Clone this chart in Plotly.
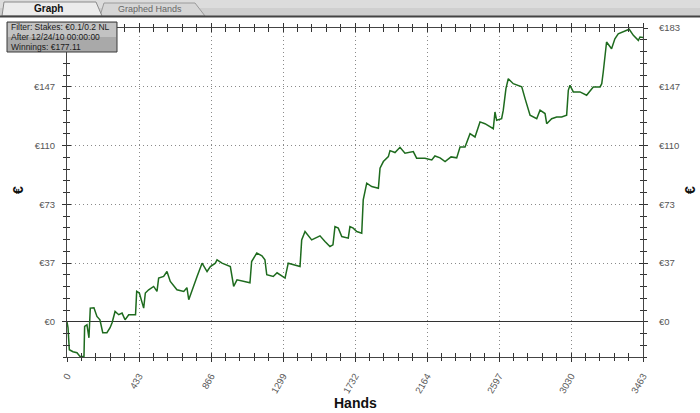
import plotly.graph_objects as go

# ---- data ----
hands = [0, 6, 14, 36, 60, 78, 102, 106, 120, 132, 140, 162, 180, 198, 215, 240, 259, 271, 289, 311,
         331, 349, 371, 412, 419, 435, 461, 471, 491, 521, 541, 551, 581, 601, 621, 661, 702, 721, 732, 762,
         782, 812, 842, 862, 892, 902, 932, 982, 1002, 1022, 1058, 1100, 1110, 1141, 1172, 1190, 1201, 1240, 1263, 1311,
         1330, 1401, 1411, 1431, 1471, 1491, 1521, 1551, 1581, 1599, 1611, 1631, 1652, 1691, 1701, 1721, 1742, 1772, 1781, 1802,
         1832, 1872, 1882, 1902, 1932, 1942, 1972, 2002, 2032, 2082, 2102, 2152, 2193, 2212, 2243, 2273, 2309, 2343, 2363, 2393,
         2423, 2453, 2483, 2513, 2563, 2573, 2583, 2613, 2623, 2639, 2653, 2683, 2718, 2734, 2754, 2784, 2824, 2844, 2874, 2884,
         2914, 2944, 2974, 3004, 3014, 3024, 3044, 3084, 3124, 3164, 3205, 3215, 3224, 3244, 3274, 3294, 3314, 3344, 3380, 3405,
         3435, 3445, 3463]
winnings = [0, -3.7, -17.4, -18.7, -19.3, -21.6, -21.6, -2.9, -1.9, -10.0, 8.5, 8.7, 3.3, 1.2, -6.8, -6.8, -3.7, -0.6, 6.4, 4.4,
            5.4, 1.2, 4.4, 4.4, 18.9, 17.9, 8.5, 17.9, 19.9, 22.0, 18.9, 27.2, 28.2, 31.3, 25.1, 19.9, 18.9, 21.2, 13.7, 23.0,
            28.2, 36.5, 31.3, 34.4, 36.5, 38.6, 36.5, 34.4, 22.0, 26.1, 25.1, 24.3, 37.5, 42.8, 41.1, 38.6, 29.3, 28.2, 30.5, 27.2,
            36.5, 34.4, 51.0, 56.2, 51.0, 52.1, 53.5, 50.0, 46.9, 47.9, 59.3, 58.3, 53.1, 52.1, 59.3, 58.3, 56.2, 55.2, 75.9, 86.3,
            84.2, 83.2, 95.7, 99.8, 102.9, 106.6, 105.4, 108.7, 105.0, 106.0, 101.9, 101.9, 100.8, 103.3, 102.1, 99.8, 102.7, 102.1, 108.9, 108.9,
            117.2, 115.1, 124.5, 123.4, 120.3, 130.7, 125.5, 126.5, 131.8, 145.2, 151.4, 148.3, 146.9, 146.3, 139.0, 128.7, 126.5, 131.8, 129.7, 123.4,
            126.5, 127.6, 127.6, 128.7, 144.2, 147.3, 143.2, 143.2, 141.1, 146.3, 146.3, 148.3, 155.6, 174.3, 170.1, 176.3, 179.4, 180.5, 182.2, 178.4,
            175.3, 177.4, 177.11]

x_tick_vals = [0, 432.875, 865.75, 1298.625, 1731.5, 2164.375, 2597.25, 3030.125, 3463]
x_tick_text = ["0", "433", "866", "1299", "1732", "2164", "2597", "3030", "3463"]
y_tick_vals = [0, 36.6, 73.2, 109.8, 146.4, 183]
y_tick_text = ["€0", "€37", "€73", "€110", "€147", "€183"]
x_range = [0, 3463]
y_range = [-21.96, 183]
filter_lines = ["Filter: Stakes: €0.1/0.2 NL", "After 12/24/10 00:00:00", "Winnings: €177.11"]

FONT = "Liberation Sans, Arial, sans-serif"
L, R, T, B = 67, 57, 28, 56
W, H = 700, 413
PW, PH = W - L - R, H - T - B


def px_x(p):
    return (p - L) / PW


def px_y(p):
    return (H - B - p) / PH


fig = go.Figure()
fig.add_trace(go.Scatter(x=hands, y=winnings, mode="lines",
                         line=dict(color="#1e6b1e", width=1.5), hoverinfo="skip",
                         showlegend=False))

tickfont = dict(family=FONT, size=9.5, color="#555")
common_minor_x = dict(dtick=432.875 / 5, tick0=0, ticklen=3, tickcolor="#333", showgrid=False)
common_minor_y = dict(dtick=36.6 / 5, tick0=0, ticklen=3, tickcolor="#333", showgrid=False)
left_tick_text = y_tick_text[:-1] + [""]  # top-left label is hidden behind the filter box

fig.update_layout(
    width=W, height=H, autosize=False,
    margin=dict(l=L, r=R, t=T, b=B, pad=0),
    paper_bgcolor="white", plot_bgcolor="white",
    showlegend=False,
    xaxis=dict(range=x_range, tickmode="array", tickvals=x_tick_vals, ticktext=x_tick_text, automargin=False,
               tickangle=-60, tickfont=tickfont, ticks="outside", ticklen=4, tickcolor="#333",
               ticklabelstandoff=5,
               showline=True, linecolor="#444", linewidth=1, mirror="allticks",
               showgrid=True, gridcolor="#8a8a8a", griddash="1px,3px", gridwidth=1, zeroline=False,
               minor=dict(ticks="outside", **common_minor_x)),
    yaxis=dict(range=y_range, tickmode="array", tickvals=y_tick_vals, ticktext=left_tick_text, automargin=False,
               tickfont=tickfont, ticks="outside", ticklen=4, tickcolor="#333", ticklabelstandoff=5,
               showline=True, linecolor="#444", linewidth=1, mirror="allticks",
               showgrid=True, gridcolor="#8a8a8a", griddash="1px,3px", gridwidth=1,
               zeroline=True, zerolinecolor="#333", zerolinewidth=1,
               minor=dict(ticks="outside", **common_minor_y)),
    xaxis2=dict(range=x_range, overlaying="x", anchor="y", side="bottom", tickmode="array", automargin=False,
                tickvals=x_tick_vals, showticklabels=False, ticks="inside", ticklen=4, tickcolor="#333",
                showline=False, mirror="allticks", showgrid=False, zeroline=False,
                minor=dict(ticks="inside", **common_minor_x)),
    yaxis2=dict(range=y_range, overlaying="y", anchor="x", side="right", tickmode="array", automargin=False,
                tickvals=y_tick_vals, ticktext=y_tick_text, tickfont=tickfont,
                ticks="outside", ticklen=4, tickcolor="#333", ticklabelstandoff=9,
                showline=False, showgrid=False, zeroline=False,
                minor=dict(ticks="outside", **common_minor_y)),
    yaxis3=dict(range=y_range, overlaying="y", anchor="x", side="left", tickmode="array", automargin=False,
                tickvals=y_tick_vals, showticklabels=False,
                ticks="inside", ticklen=4, tickcolor="#333",
                showline=False, showgrid=False, zeroline=False,
                minor=dict(ticks="inside", **common_minor_y)),
    yaxis4=dict(range=y_range, overlaying="y", anchor="x", side="right", tickmode="array", automargin=False,
                tickvals=y_tick_vals, showticklabels=False,
                ticks="inside", ticklen=4, tickcolor="#333",
                showline=False, showgrid=False, zeroline=False,
                minor=dict(ticks="inside", **common_minor_y)),
)

# invisible helper traces so the overlay axes are drawn
for xa, ya in [("x2", "y2"), ("x2", "y3"), ("x2", "y4")]:
    fig.add_trace(go.Scatter(x=[None], y=[None], xaxis=xa, yaxis=ya, showlegend=False, hoverinfo="skip"))

shapes = []
# tab bar
shapes.append(dict(type="rect", xref="paper", yref="paper", x0=px_x(0), x1=px_x(W), y0=px_y(16), y1=px_y(0),
                   fillcolor="#cfcfcf", line=dict(width=0), layer="above"))
shapes.append(dict(type="rect", xref="paper", yref="paper", x0=px_x(0), x1=px_x(W), y0=px_y(8), y1=px_y(0),
                   fillcolor="#dcdcdc", line=dict(width=0), layer="above"))
shapes.append(dict(type="path", xref="paper", yref="paper",
                   path=f"M {px_x(100)},{px_y(16)} L {px_x(104)},{px_y(3)} L {px_x(195)},{px_y(3)} L {px_x(205)},{px_y(16)} Z",
                   fillcolor="#d6d6d6", line=dict(color="#9a9a9a", width=1), layer="above"))
shapes.append(dict(type="path", xref="paper", yref="paper",
                   path=f"M {px_x(2)},{px_y(16)} L {px_x(4)},{px_y(2)} L {px_x(96)},{px_y(2)} L {px_x(102)},{px_y(16)} Z",
                   fillcolor="#ececec", line=dict(color="#8a8a8a", width=1), layer="above"))
shapes.append(dict(type="line", xref="paper", yref="paper", x0=px_x(0), x1=px_x(W), y0=px_y(16.5), y1=px_y(16.5),
                   line=dict(color="#444", width=2), layer="above"))
# filter box
shapes.append(dict(type="rect", xref="paper", yref="paper", x0=px_x(7), x1=px_x(117), y0=px_y(52), y1=px_y(22),
                   fillcolor="#a9a9a9", line=dict(color="#3a3a3a", width=1), layer="above"))
shapes.append(dict(type="rect", xref="paper", yref="paper", x0=px_x(8), x1=px_x(116), y0=px_y(37), y1=px_y(23),
                   fillcolor="#c2c2c2", line=dict(width=0), layer="above"))
fig.update_layout(shapes=shapes)

ann = []
ann.append(dict(text="<b>Graph</b>", xref="paper", yref="paper", x=px_x(48), y=px_y(9), showarrow=False,
                font=dict(family=FONT, size=10, color="#111"), xanchor="center", yanchor="middle"))
ann.append(dict(text="Graphed Hands", xref="paper", yref="paper", x=px_x(150), y=px_y(9), showarrow=False,
                font=dict(family=FONT, size=9, color="#666"), xanchor="center", yanchor="middle"))
for i, line in enumerate(filter_lines):
    ann.append(dict(text=line, xref="paper", yref="paper", x=px_x(9), y=px_y(27.5 + i * 9.5), showarrow=False,
                    font=dict(family=FONT, size=8.5, color="#1a1a1a"), xanchor="left", yanchor="middle"))
# axis titles
title_font = dict(family=FONT, size=14, color="#111")
ann.append(dict(text="<b>Hands</b>", xref="paper", yref="paper", x=px_x(355), y=px_y(403), showarrow=False,
                font=title_font, xanchor="center", yanchor="middle"))
ann.append(dict(text="<b>€</b>", xref="paper", yref="paper", x=px_x(18), y=px_y(190), showarrow=False,
                font=title_font, xanchor="center", yanchor="middle", textangle=-90))
ann.append(dict(text="<b>€</b>", xref="paper", yref="paper", x=px_x(690), y=px_y(190), showarrow=False,
                font=title_font, xanchor="center", yanchor="middle", textangle=-90))
fig.update_layout(annotations=ann)

fig.write_html("out.html", config={"displayModeBar": False},
               post_script="document.body.style.margin='0';document.body.style.padding='0';")
